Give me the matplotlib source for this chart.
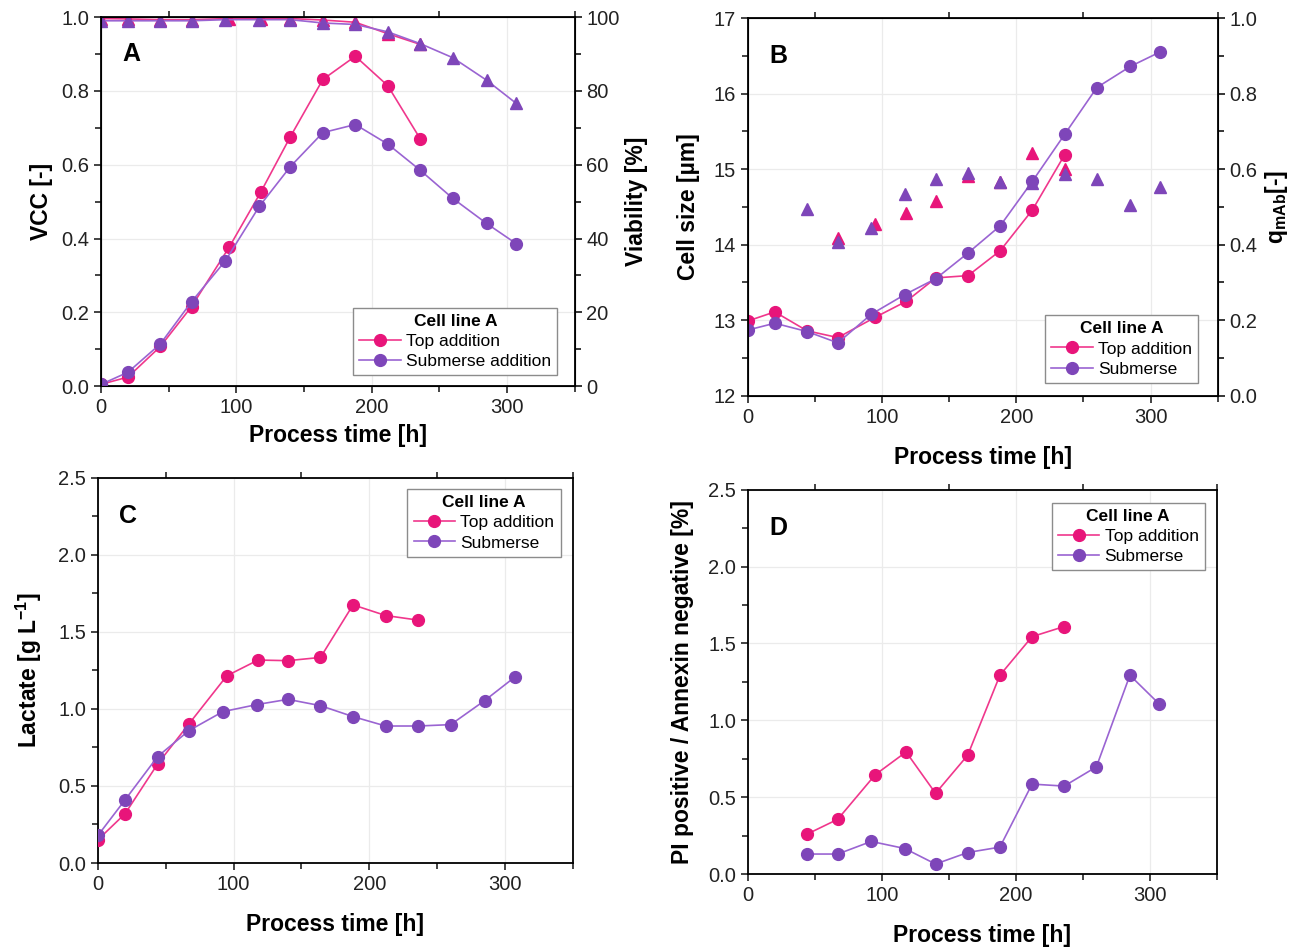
import matplotlib

matplotlib.use("Agg")
import matplotlib.pyplot as plt
from matplotlib.ticker import FormatStrFormatter, MultipleLocator

plt.rcParams["font.family"] = ["Liberation Sans", "DejaVu Sans"]
plt.rcParams["mathtext.fontset"] = "custom"
plt.rcParams["mathtext.rm"] = "Liberation Sans"
plt.rcParams["mathtext.bf"] = "Liberation Sans:bold"

PINK = "#e8157a"
PINK_LINE = "#f0378c"
PURPLE = "#7e46b9"
PURPLE_LINE = "#9a64d2"
GRID = "#ebebeb"

# ---- data ------------------------------------------------------------------
t_top = [0, 20, 44, 67, 95, 118, 140, 164, 188, 212, 236]
t_sub = [0, 20, 44, 67, 92, 117, 140, 164, 188, 212, 236, 260, 285, 307]

# A: viable cell concentration (normalised) and viability
vcc_top = [0.005, 0.025, 0.108, 0.216, 0.378, 0.525, 0.676, 0.831, 0.894, 0.814, 0.670]
vcc_sub = [0.005, 0.038, 0.115, 0.229, 0.340, 0.487, 0.595, 0.687, 0.709, 0.656, 0.585,
           0.509, 0.441, 0.386]
via_top = [99.6, 99.5, 99.3, 99.3, 99.6, 99.6, 99.6, 99.2, 98.6, 95.5, 92.6]
via_sub = [99.0, 99.0, 99.0, 99.0, 99.3, 99.3, 99.3, 98.4, 98.0, 96.0, 92.8, 89.0, 82.9, 76.6]

# B: cell size and specific productivity
size_top = [12.99, 13.11, 12.86, 12.77, 13.04, 13.25, 13.56, 13.59, 13.92, 14.46, 15.19]
size_sub = [12.87, 12.96, 12.85, 12.70, 13.08, 13.34, 13.55, 13.89, 14.25, 14.84, 15.46,
            16.08, 16.36, 16.55]
q_t_top = [67, 95, 118, 140, 164, 188, 212, 236]
q_top = [0.418, 0.456, 0.485, 0.515, 0.581, 0.565, 0.643, 0.599]
q_t_sub = [44, 67, 92, 117, 140, 164, 188, 212, 236, 260, 285, 307]
q_sub = [0.495, 0.408, 0.445, 0.535, 0.573, 0.590, 0.566, 0.564, 0.586, 0.575, 0.505, 0.552]

# C: lactate
lac_top = [0.151, 0.32, 0.643, 0.902, 1.215, 1.317, 1.313, 1.334, 1.675, 1.606, 1.576]
lac_sub = [0.179, 0.41, 0.691, 0.859, 0.982, 1.028, 1.062, 1.021, 0.95, 0.889, 0.889,
           0.898, 1.054, 1.205]

# D: PI positive / Annexin negative (first samples at 44 h)
pi_top = [0.259, 0.356, 0.646, 0.794, 0.525, 0.773, 1.293, 1.544, 1.61]
pi_sub = [0.13, 0.13, 0.212, 0.166, 0.065, 0.14, 0.175, 0.585, 0.572, 0.697, 1.293, 1.105]

TICK_FS = 14.5
LABEL_FS = 16.5
LEG_FS = 12.5
MS = 8.5


def style_axis(ax, ylim, ymajor, yminor, xpad):
    ax.set_xlim(0, 350)
    ax.set_ylim(*ylim)
    ax.xaxis.set_major_locator(MultipleLocator(100))
    ax.xaxis.set_minor_locator(MultipleLocator(50))
    ax.yaxis.set_major_locator(MultipleLocator(ymajor))
    ax.yaxis.set_minor_locator(MultipleLocator(yminor))
    ax.tick_params(which="both", direction="out", labelsize=TICK_FS, width=1.1,
                   colors="#111111", labelcolor="#222222")
    ax.tick_params(which="major", length=5)
    ax.tick_params(which="minor", length=4, top=True)
    ax.grid(True, which="major", color=GRID, lw=0.9)
    ax.set_axisbelow(True)
    for sp in ax.spines.values():
        sp.set_linewidth(1.3)
    ax.set_xlabel("Process time [h]", fontsize=LABEL_FS, fontweight="bold", labelpad=xpad)


def style_right(ax2, ylim, major, minor):
    ax2.set_ylim(*ylim)
    ax2.yaxis.set_major_locator(MultipleLocator(major))
    ax2.yaxis.set_minor_locator(MultipleLocator(minor))
    ax2.tick_params(which="both", direction="out", labelsize=TICK_FS, width=1.1,
                    labelcolor="#222222")
    ax2.tick_params(which="major", length=5)
    ax2.tick_params(which="minor", length=4)


def circles(ax, x, y, line, face):
    ax.plot(x, y, color=line, lw=1.2, marker="o", ms=MS, mfc=face, mec=face, zorder=3)


def panel_letter(ax, s):
    ax.text(0.045, 0.9, s, transform=ax.transAxes, fontsize=18, fontweight="bold",
            ha="left", va="center")


def add_legend(ax, labels, **kw):
    h = [plt.Line2D([], [], color=PINK_LINE, lw=1.2, marker="o", ms=MS, mfc=PINK, mec=PINK),
         plt.Line2D([], [], color=PURPLE_LINE, lw=1.2, marker="o", ms=MS, mfc=PURPLE, mec=PURPLE)]
    leg = ax.legend(h, labels, title="Cell line A", fontsize=LEG_FS, title_fontsize=LEG_FS,
                    fancybox=False, framealpha=1, edgecolor="#8c8c8c", handlelength=2.4,
                    handletextpad=0.3, borderpad=0.35, labelspacing=0.3, borderaxespad=0.3, **kw)
    leg.get_title().set_fontweight("bold")
    leg.get_frame().set_linewidth(1.0)
    leg.set_zorder(10)
    return leg


fig = plt.figure(figsize=(12.94, 9.49), dpi=100)
fig.patch.set_facecolor("white")

# ---- A ---------------------------------------------------------------------
axA = fig.add_axes((0.078, 0.593, 0.366, 0.389))
style_axis(axA, (0, 1.0), 0.2, 0.1, 5)
axA.yaxis.set_major_formatter(FormatStrFormatter("%.1f"))
circles(axA, t_top, vcc_top, PINK_LINE, PINK)
circles(axA, t_sub, vcc_sub, PURPLE_LINE, PURPLE)
axA.set_ylabel("VCC [-]", fontsize=LABEL_FS, fontweight="bold", labelpad=6)
panel_letter(axA, "A")
axA2 = axA.twinx()
style_right(axA2, (0, 100), 20, 10)
axA2.plot(t_top, via_top, color=PINK_LINE, lw=1.2, marker="^", ms=9, mfc=PINK, mec=PINK)
axA2.plot(t_sub, via_sub, color=PURPLE_LINE, lw=1.2, marker="^", ms=9, mfc=PURPLE, mec=PURPLE)
axA2.set_ylabel("Viability [%]", fontsize=LABEL_FS, fontweight="bold", labelpad=4)
add_legend(axA2, ["Top addition", "Submerse addition"], loc="lower right",
           bbox_to_anchor=(0.975, 0.015))

# ---- B ---------------------------------------------------------------------
axB = fig.add_axes((0.578, 0.583, 0.363, 0.398))
style_axis(axB, (12, 17), 1, 0.5, 14)
circles(axB, t_top, size_top, PINK_LINE, PINK)
circles(axB, t_sub, size_sub, PURPLE_LINE, PURPLE)
axB.set_ylabel("Cell size [µm]", fontsize=LABEL_FS, fontweight="bold", labelpad=10)
panel_letter(axB, "B")
axB2 = axB.twinx()
style_right(axB2, (0, 1.0), 0.2, 0.1)
axB2.yaxis.set_major_formatter(FormatStrFormatter("%.1f"))
axB2.plot(q_t_top, q_top, ls="none", marker="^", ms=9, mfc=PINK, mec=PINK)
axB2.plot(q_t_sub, q_sub, ls="none", marker="^", ms=9, mfc=PURPLE, mec=PURPLE)
axB2.set_ylabel(r"q$_{\mathbf{mAb}}$[-]", fontsize=LABEL_FS, fontweight="bold", labelpad=4)
add_legend(axB2, ["Top addition", "Submerse"], loc="lower right",
           bbox_to_anchor=(0.97, 0.02))

# ---- C ---------------------------------------------------------------------
axC = fig.add_axes((0.0757, 0.0906, 0.367, 0.406))
style_axis(axC, (0, 2.5), 0.5, 0.25, 14)
axC.yaxis.set_major_formatter(FormatStrFormatter("%.1f"))
circles(axC, t_top, lac_top, PINK_LINE, PINK)
circles(axC, t_sub, lac_sub, PURPLE_LINE, PURPLE)
axC.set_ylabel(r"Lactate [g $\mathbf{L^{-1}}$]", fontsize=LABEL_FS, fontweight="bold",
               labelpad=10)
panel_letter(axC, "C")
add_legend(axC, ["Top addition", "Submerse"], loc="upper right", bbox_to_anchor=(0.985, 0.985))

# ---- D ---------------------------------------------------------------------
axD = fig.add_axes((0.578, 0.079, 0.3625, 0.405))
style_axis(axD, (0, 2.5), 0.5, 0.25, 14)
axD.yaxis.set_major_formatter(FormatStrFormatter("%.1f"))
circles(axD, t_top[2:], pi_top, PINK_LINE, PINK)
circles(axD, t_sub[2:], pi_sub, PURPLE_LINE, PURPLE)
axD.set_ylabel("PI positive / Annexin negative [%]", fontsize=LABEL_FS, fontweight="bold",
               labelpad=10)
panel_letter(axD, "D")
add_legend(axD, ["Top addition", "Submerse"], loc="upper right", bbox_to_anchor=(0.985, 0.98))

# top axis shows only the minor (50 h) ticks
for ax in (axA, axB, axC, axD):
    ax.tick_params(which="major", top=False)

fig.savefig("out.png", dpi=100, facecolor="white")
